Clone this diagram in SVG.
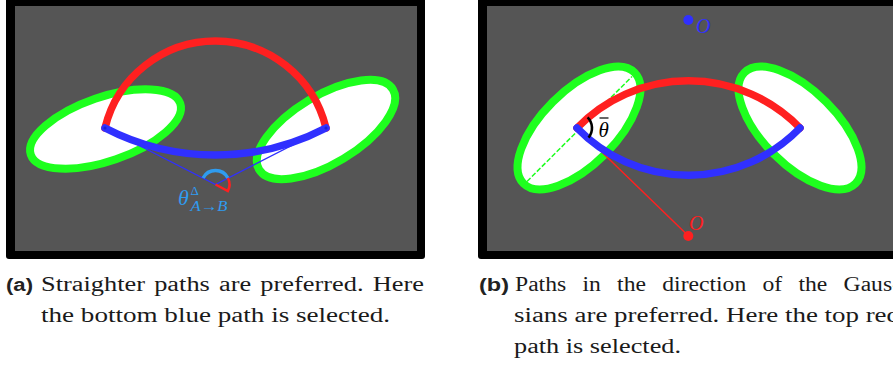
<svg xmlns="http://www.w3.org/2000/svg" width="893" height="367" viewBox="0 0 893 367">
<style>
.frame{fill:#000}
.bg{fill:#555555}
.gauss{fill:#fff;stroke:#1eff1e;stroke-width:8}
.red{fill:none;stroke:#ff2020;stroke-width:7.5;stroke-linecap:round}
.blue{fill:none;stroke:#3030ff;stroke-width:7.5;stroke-linecap:round}
.thinblue{fill:none;stroke:#3030ff;stroke-width:1.4}
.thinred{fill:none;stroke:#ff2020;stroke-width:1.5}
.math{font-family:"Liberation Serif",serif;font-style:italic}
.cap{font-family:"Liberation Serif",serif;font-size:20.5px;fill:#1a1a1a}
.lab{font-family:"Liberation Sans",sans-serif;font-weight:bold;font-size:18px;fill:#222}
</style>
<rect width="893" height="367" fill="#fff"/>

<!-- Panel (a) -->
<g id="panel-a">
  <rect x="6" y="-4" width="419" height="263" rx="3" class="frame"/>
  <rect x="15" y="6" width="402" height="245" class="bg"/>
  <g id="a-gaussian-A"><ellipse class="gauss" cx="105.5" cy="129" rx="79" ry="32" transform="rotate(-19 105.5 129)"/></g>
  <g id="a-gaussian-B"><ellipse class="gauss" cx="326" cy="129.5" rx="78" ry="34" transform="rotate(-31 326 129.5)"/></g>
  <g id="a-connectors">
    <path class="thinblue" d="M105,128 L215.5,184.5 L326,128"/>
    <path class="red" d="M105,128 A113.7 113.7 0 0 1 326,128"/>
    <path class="blue" d="M105,128 A239.6 239.6 0 0 0 326,128"/>
    <circle cx="105" cy="128" r="1.6" fill="#2020d0"/>
    <circle cx="326" cy="128" r="1.6" fill="#2020d0"/>
  </g>
  <g id="a-angle">
    <path d="M203.1,178 A14 14 0 0 1 227.9,178" fill="none" stroke="#2f9cf0" stroke-width="3.5"/>
    <path d="M227.9,178 A14 14 0 0 1 227.9,191 L215.5,184.5" fill="none" stroke="#ff2020" stroke-width="2.5"/>
    <text class="math" x="178" y="204.5" font-size="22" fill="#2f9cf0">θ</text>
    <text x="190.5" y="194.5" font-size="13" fill="#2f9cf0" font-family="Liberation Serif, serif">Δ</text>
    <text class="math" x="190.5" y="211" font-size="15" fill="#2f9cf0" textLength="37" lengthAdjust="spacingAndGlyphs">A<tspan font-style="normal">→</tspan>B</text>
  </g>
</g>

<!-- Panel (b) -->
<g id="panel-b">
  <rect x="478" y="-4" width="430" height="263" rx="3" class="frame"/>
  <rect x="487" y="6" width="420" height="245" class="bg"/>
  <g id="b-gaussian-A">
    <ellipse class="gauss" cx="579" cy="128" rx="78.5" ry="37" transform="rotate(-45 579 128)"/>
    <path d="M527,181.5 L632,76.5" fill="none" stroke="#1eff1e" stroke-width="1.5" stroke-dasharray="5 2"/>
  </g>
  <g id="b-gaussian-B"><ellipse class="gauss" cx="800" cy="128" rx="78.5" ry="37" transform="rotate(45 800 128)"/></g>
  <g id="b-connectors">
    <path class="thinred" d="M577,128 L688.5,236"/>
    <path class="red" d="M577,128 A155.2 155.2 0 0 1 800,128"/>
    <path class="blue" d="M577,128 A155.2 155.2 0 0 0 800,128"/>
  </g>
  <g id="b-angle">
    <path d="M587.6,117.4 A15 15 0 0 1 588.5,137.6" fill="none" stroke="#000" stroke-width="2.6"/>
    <line x1="599.5" y1="118" x2="608.5" y2="118" stroke="#000" stroke-width="1.2"/>
    <text class="math" x="598.5" y="136.5" font-size="21" fill="#000">θ</text>
  </g>
  <g id="b-center-blue">
    <circle cx="688.3" cy="20" r="5" fill="#3030ff"/>
    <text class="math" x="696" y="32.5" font-size="20" fill="#3030ff">O</text>
  </g>
  <g id="b-center-red">
    <circle cx="688.3" cy="236" r="5" fill="#ff2020"/>
    <text class="math" x="689" y="230" font-size="20" fill="#ff2020">O</text>
  </g>
</g>

<!-- Captions -->
<g id="caption-a">
  <text class="lab" x="6" y="291" textLength="27" lengthAdjust="spacingAndGlyphs">(a)</text>
  <text class="cap" x="41" y="291" textLength="383" lengthAdjust="spacingAndGlyphs" word-spacing="2">Straighter paths are preferred. Here</text>
  <text class="cap" x="41" y="322" textLength="349" lengthAdjust="spacingAndGlyphs">the bottom blue path is selected.</text>
</g>
<g id="caption-b">
  <text class="lab" x="479" y="291" textLength="30" lengthAdjust="spacingAndGlyphs">(b)</text>
  <text class="cap" x="515" y="291" textLength="385" lengthAdjust="spacingAndGlyphs" word-spacing="9">Paths in the direction of the Gaus-</text>
  <text class="cap" x="514" y="322" textLength="386" lengthAdjust="spacingAndGlyphs">sians are preferred. Here the top red</text>
  <text class="cap" x="514" y="353" textLength="167" lengthAdjust="spacingAndGlyphs">path is selected.</text>
</g>
</svg>
